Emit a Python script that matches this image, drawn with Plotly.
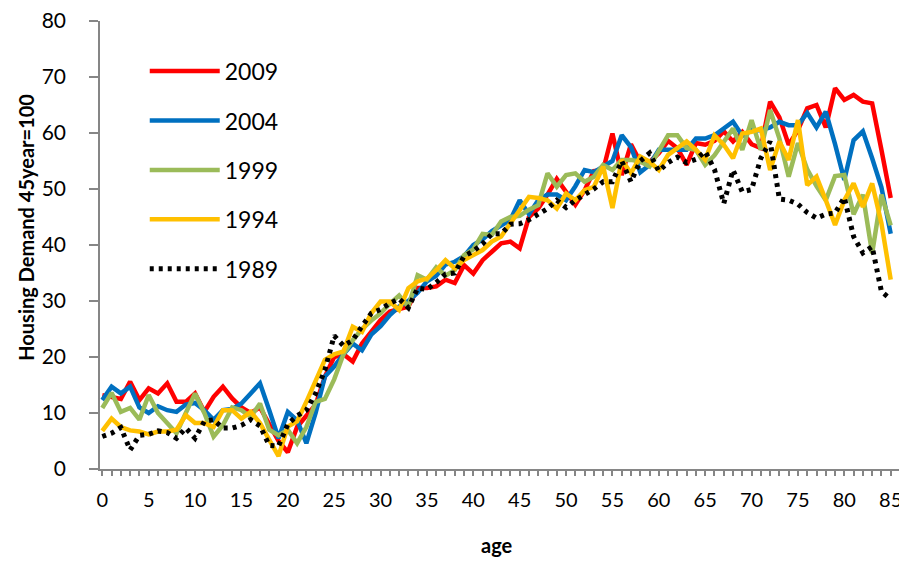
import plotly.graph_objects as go

ages = list(range(86))

y2009 = [13.2, 12.8, 12.5, 15.6, 12.3, 14.4, 13.5, 15.3, 12.0, 12.0,
         13.5, 10.2, 12.9, 14.7, 12.6, 11.0, 10.0, 11.0, 8.0, 5.0,
         3.0, 7.5, 9.5, 11.5, 16.5, 20.0, 20.5, 19.2, 22.4, 24.5,
         26.6, 28.1, 28.5, 29.0, 32.3, 32.3, 32.6, 33.8, 33.2, 36.4,
         34.9, 37.3, 38.8, 40.3, 40.6, 39.4, 45.0, 46.5, 49.0, 51.8,
         49.5, 47.2, 49.8, 53.2, 53.4, 59.9, 52.5, 58.0, 54.8, 54.8,
         56.4, 58.6, 57.3, 54.3, 58.2, 57.9, 58.6, 60.3, 58.5, 60.2,
         58.0, 57.3, 65.6, 62.8, 57.9, 60.5, 64.4, 65.0, 61.0, 68.0,
         65.9, 66.8, 65.6, 65.3, 57.0, 48.4]

y2004 = [12.3, 14.7, 13.5, 14.7, 11.0, 10.0, 11.2, 10.5, 10.2, 11.5,
         11.8, 10.5, 8.8, 10.5, 10.7, 11.7, 13.5, 15.3, 10.5, 5.5,
         10.2, 8.7, 4.6, 10.0, 16.5, 18.3, 20.5, 22.4, 21.2, 24.0,
         25.5, 27.5, 29.0, 30.0, 31.5, 33.5, 34.5, 36.5, 37.0, 38.0,
         40.0, 41.0, 42.5, 43.5, 44.5, 48.0, 45.5, 48.0, 49.0, 49.0,
         48.0, 50.5, 53.4, 53.0, 54.0, 55.0, 59.6, 57.5, 53.0, 54.3,
         57.0, 57.0, 57.0, 57.0, 59.0, 59.0, 59.6, 60.8, 62.0, 59.5,
         60.5, 60.5, 61.0, 62.0, 61.4, 61.4, 63.6, 61.0, 63.8, 58.0,
         51.6, 58.7, 60.3, 55.5, 50.3, 42.0]

y1999 = [10.9, 13.6, 10.2, 10.9, 8.8, 13.2, 10.0, 8.2, 6.4, 10.0,
         13.5, 10.0, 5.8, 7.8, 11.0, 10.5, 9.3, 11.7, 7.0, 6.0,
         7.0, 4.6, 7.5, 12.0, 12.5, 16.0, 20.5, 23.0, 25.0, 26.5,
         27.8, 29.5, 31.0, 29.0, 34.6, 33.8, 36.0, 34.5, 35.5, 38.2,
         39.2, 42.0, 41.8, 44.2, 45.0, 45.2, 46.3, 47.1, 52.8, 50.4,
         52.5, 52.8, 51.3, 52.2, 54.3, 53.4, 55.2, 55.2, 54.9, 54.0,
         56.7, 59.6, 59.6, 57.3, 57.0, 54.3, 56.0, 58.5, 60.8, 57.0,
         62.3, 57.0, 64.1, 59.0, 52.2, 58.2, 53.5, 50.5, 48.0, 52.3,
         52.5, 45.5, 49.0, 38.5, 49.0, 43.5]

y1994 = [6.8, 9.0, 7.5, 6.9, 6.7, 6.2, 6.7, 6.7, 7.0, 9.6,
         8.2, 8.2, 7.5, 10.5, 10.5, 9.0, 10.2, 8.2, 5.2, 2.3,
         7.6, 8.5, 12.0, 16.0, 19.5, 20.5, 21.0, 25.4, 24.5, 27.8,
         29.9, 29.9, 28.4, 32.3, 33.5, 34.0, 35.5, 37.3, 35.8, 37.3,
         38.2, 39.1, 40.6, 41.5, 43.9, 46.3, 48.6, 48.4, 48.0, 46.5,
         49.2, 48.0, 49.8, 50.4, 54.0, 46.6, 55.2, 52.8, 55.8, 54.9,
         53.4, 56.1, 57.3, 58.5, 57.0, 55.2, 59.6, 57.9, 55.5, 59.9,
         60.2, 60.8, 53.4, 58.5, 55.2, 62.3, 50.7, 52.2, 48.0, 43.6,
         48.0, 51.0, 46.8, 51.0, 43.9, 33.8]

y1989 = [5.8, 6.4, 7.4, 3.4, 6.0, 6.2, 6.8, 6.5, 5.5, 7.3,
         5.5, 8.5, 8.8, 7.3, 7.3, 7.8, 8.8, 7.7, 4.2, 4.1,
         8.0, 9.5, 10.5, 13.5, 17.7, 23.8, 22.0, 23.0, 25.5, 27.8,
         28.5, 29.6, 30.4, 28.8, 32.3, 32.1, 33.3, 34.8, 35.0, 38.0,
         38.9, 40.2, 42.0, 42.0, 43.7, 43.8, 44.5, 45.4, 46.5, 48.0,
         46.7, 48.0, 48.9, 50.0, 51.3, 51.3, 55.0, 51.3, 55.0, 56.4,
         53.2, 54.7, 55.7, 54.7, 55.3, 56.7, 53.5, 47.4, 53.4, 49.5,
         49.9, 55.5, 58.5, 48.2, 48.0, 47.3, 45.8, 44.8, 45.5, 45.7,
         48.5, 41.5, 38.6, 39.7, 31.7, 30.3]

x_tickvals = list(range(0, 86, 5))
y_tickvals = list(range(0, 81, 10))

series = [
    ("2009", y2009, "#FF0000", "solid", 4.5),
    ("2004", y2004, "#0070C0", "solid", 4.5),
    ("1999", y1999, "#9BBB59", "solid", 4.5),
    ("1994", y1994, "#FFC000", "solid", 4.5),
    ("1989", y1989, "#000000", "4px,5px", 5),
]

FONT = "Lato"
AXIS_COLOR = "#868686"

fig = go.Figure()
for i, (name, ys, color, dash, w) in enumerate(series):
    fig.add_trace(go.Scatter(
        x=ages, y=ys, name=name, mode="lines",
        line=dict(color=color, width=w, dash=dash),
        legendgroup="g%d" % i,
    ))

fig.update_layout(
    width=899, height=554,
    margin=dict(l=92, r=8, t=13, b=93),
    paper_bgcolor="white", plot_bgcolor="white",
    font=dict(family=FONT, size=18, color="#000000"),
    showlegend=True,
    legend=dict(
        x=0.056, y=0.936, xanchor="left", yanchor="top",
        font=dict(family=FONT, size=23, color="#000000"),
        bgcolor="rgba(0,0,0,0)", tracegroupgap=16.5, itemwidth=70,
    ),
    xaxis=dict(
        range=[-0.248, 85.895], showgrid=False, zeroline=False,
        automargin=False, ticklabeloverflow="allow",
        tickmode="array", tickvals=x_tickvals,
        ticks="outside", ticklen=5, tickwidth=1.5, tickcolor=AXIS_COLOR,
        showline=True, linecolor=AXIS_COLOR, linewidth=1.5,
        tickfont=dict(family=FONT, size=20, color="#000000"),
        ticklabelstandoff=7,
        minor=dict(dtick=1, ticks="outside", ticklen=5, tickwidth=1.5,
                   tickcolor=AXIS_COLOR, showgrid=False),
    ),
    yaxis=dict(
        range=[0, 80], showgrid=False, zeroline=False,
        automargin=False, ticklabeloverflow="allow",
        tickmode="array", tickvals=y_tickvals,
        ticks="outside", ticklen=9, tickwidth=1.5, tickcolor=AXIS_COLOR,
        showline=True, linecolor=AXIS_COLOR, linewidth=1.5,
        tickfont=dict(family=FONT, size=21, color="#000000"),
        ticklabelstandoff=19,
    ),
    annotations=[
        dict(text="<b>age</b>", xref="paper", yref="paper",
             x=0.497, y=-0.17, xanchor="center", yanchor="middle",
             showarrow=False, font=dict(family=FONT, size=20, color="#000000")),
        dict(text="<b>Housing Demand 45year=100</b>", xref="paper", yref="paper",
             x=-0.093, y=0.54, xanchor="center", yanchor="middle", textangle=-90,
             showarrow=False, font=dict(family=FONT, size=20, color="#000000")),
    ],
)

fig.write_html("out.html")
